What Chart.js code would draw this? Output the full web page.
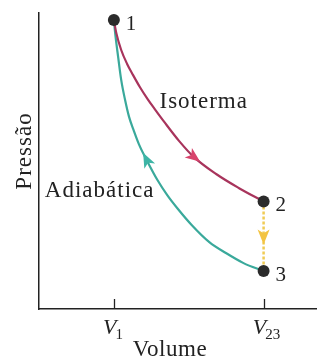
<!DOCTYPE html>
<html>
<head>
<meta charset="utf-8">
<script src="https://cdn.jsdelivr.net/npm/chart.js@4.4.1/dist/chart.umd.min.js"></script>
<style>
html,body{margin:0;padding:0;background:#fff;}
canvas{display:block;}
</style>
</head>
<body>
<canvas id="pvChart" width="322" height="360"></canvas>
<script>
// Ciclo P-V: isoterma 1->2, isocórica 2->3, adiabática 3->1

const volIsoterma=[1.0,1.033,1.098,1.177,1.255,1.347,1.451,1.556,1.673,1.870,2.066,2.366,2.667,3.0];
const presIsoterma=[9.76,9.32,8.75,8.28,7.91,7.50,7.09,6.72,6.32,5.68,5.14,4.56,4.09,3.63];

// adiabática percorrida de 3 para 1
const volAdiabatica=[3.0,2.732,2.497,2.275,2.039,1.856,1.713,1.582,1.451,1.334,1.268,1.203,1.150,1.098,1.059,1.020,1.0];
const presAdiabatica=[1.28,1.55,1.89,2.26,2.84,3.38,3.85,4.36,4.97,5.57,6.01,6.49,7.06,7.74,8.48,9.26,9.76];

const volIsocorica=[3.0,3.0];
const presIsocorica=[3.63,1.28];

const volEstados=[1.0,3.0,3.0];
const presEstados=[9.76,3.63,1.28];
const nomesEstados=["1","2","3"];

const xTicks=[1,3];
const xTickSubs=["1","23"];

const tituloX="Volume";
const tituloY="Pressão";
const rotulos=["Isoterma","Adiabática"];

function pts(xs,ys){
return xs.map((v,i)=>({x:v,y:ys[i]}));
}

const serif="'Liberation Serif','Times New Roman',serif";

// setas: dataset, segmento, fração
const arrows=[
{ds:1,seg:10,t:0,color:"#d8436c"},
{ds:2,seg:8,t:0.1,color:"#3db5a6"},
{ds:3,seg:0,t:0.5,color:"#f3c443"}
];

const arrowPlugin={
id:"arrows",
afterDatasetsDraw(chart){
let ctx=chart.ctx;
arrows.forEach(a=>{
let meta=chart.getDatasetMeta(a.ds);
let p0=meta.data[a.seg], p1=meta.data[a.seg+1];
let dx=p1.x-p0.x, dy=p1.y-p0.y;
let len=Math.hypot(dx,dy);
let ux=dx/len, uy=dy/len;
let cx=p0.x+dx*a.t, cy=p0.y+dy*a.t;
let L=15, W=6;
ctx.save();
ctx.fillStyle=a.color;
ctx.beginPath();
ctx.moveTo(cx+ux*L*0.55,cy+uy*L*0.55);
ctx.lineTo(cx-ux*L*0.45-uy*W,cy-uy*L*0.45+ux*W);
ctx.lineTo(cx-ux*L*0.2,cy-uy*L*0.2);
ctx.lineTo(cx-ux*L*0.45+uy*W,cy-uy*L*0.45-ux*W);
ctx.closePath();
ctx.fill();
ctx.restore();
});
}
};

const textPlugin={
id:"texts",
afterDraw(chart){
let ctx=chart.ctx;
let xs=chart.scales.x;
let area=chart.chartArea;
ctx.save();
ctx.fillStyle="#222";

// marcas do eixo x, para dentro
ctx.strokeStyle="#222";
ctx.lineWidth=1.3;
xTicks.forEach(v=>{
let px=Math.round(xs.getPixelForValue(v))+0.5;
ctx.beginPath();
ctx.moveTo(px,area.bottom);
ctx.lineTo(px,area.bottom-10);
ctx.stroke();
});

// rótulos V1, V23
ctx.textBaseline="alphabetic";
ctx.textAlign="left";
xTicks.forEach((v,i)=>{
let px=xs.getPixelForValue(v);
ctx.font="italic 22px "+serif;
let wV=ctx.measureText("V").width;
let x0=px-wV*0.8;
ctx.fillText("V",x0,334);
ctx.font="15px "+serif;
ctx.fillText(xTickSubs[i],x0+wV-1,339);
});

// títulos dos eixos
ctx.font="23px "+serif;
ctx.textAlign="center";
ctx.letterSpacing="0.6px";
ctx.fillText(tituloX,170,356);
ctx.letterSpacing="1px";
ctx.save();
ctx.translate(31,151);
ctx.rotate(-Math.PI/2);
ctx.fillText(tituloY,0,0);
ctx.restore();

// rótulos das curvas
ctx.font="23px "+serif;
ctx.letterSpacing="1px";
ctx.fillText(rotulos[0],xs.getPixelForValue(2.2),108);
ctx.fillText(rotulos[1],xs.getPixelForValue(0.81),197);
ctx.letterSpacing="0px";

// nomes dos estados
ctx.font="21px "+serif;
ctx.textAlign="left";
ctx.textBaseline="middle";
let meta=chart.getDatasetMeta(0);
meta.data.forEach((p,i)=>{
ctx.fillText(nomesEstados[i],p.x+12,p.y+4);
});
ctx.restore();
}
};

new Chart(
document.getElementById("pvChart"),
{
type:"scatter",
data:{
datasets:[
{
label:"Estados",
data:pts(volEstados,presEstados),
pointRadius:6,
pointBackgroundColor:"#2b2b2b",
pointBorderWidth:0,
showLine:false
},
{
label:"Isoterma",
data:pts(volIsoterma,presIsoterma),
showLine:true,
borderColor:"#a8345c",
borderWidth:2.2,
pointRadius:0,
cubicInterpolationMode:"monotone"
},
{
label:"Adiabática",
data:pts(volAdiabatica,presAdiabatica),
showLine:true,
borderColor:"#3aa99b",
borderWidth:2.2,
pointRadius:0,
cubicInterpolationMode:"monotone"
},
{
label:"Isocórica",
data:pts(volIsocorica,presIsocorica),
showLine:true,
borderColor:"#f0cb55",
borderWidth:2.5,
borderDash:[3,2],
pointRadius:0
}
]
},
options:{
responsive:false,
devicePixelRatio:1,
animation:false,
layout:{padding:{left:39,top:13,right:0,bottom:51}},
plugins:{
legend:{display:false},
tooltip:{enabled:false}
},
scales:{
x:{
type:"linear",
min:0,
max:3.7,
grid:{display:false,drawTicks:false},
border:{display:true,color:"#222",width:1.5},
ticks:{display:false}
},
y:{
type:"linear",
min:0,
max:10,
grid:{display:false,drawTicks:false},
border:{display:true,color:"#222",width:1.5},
ticks:{display:false}
}
}
},
plugins:[arrowPlugin,textPlugin]
}
);
</script>
</body>
</html>
